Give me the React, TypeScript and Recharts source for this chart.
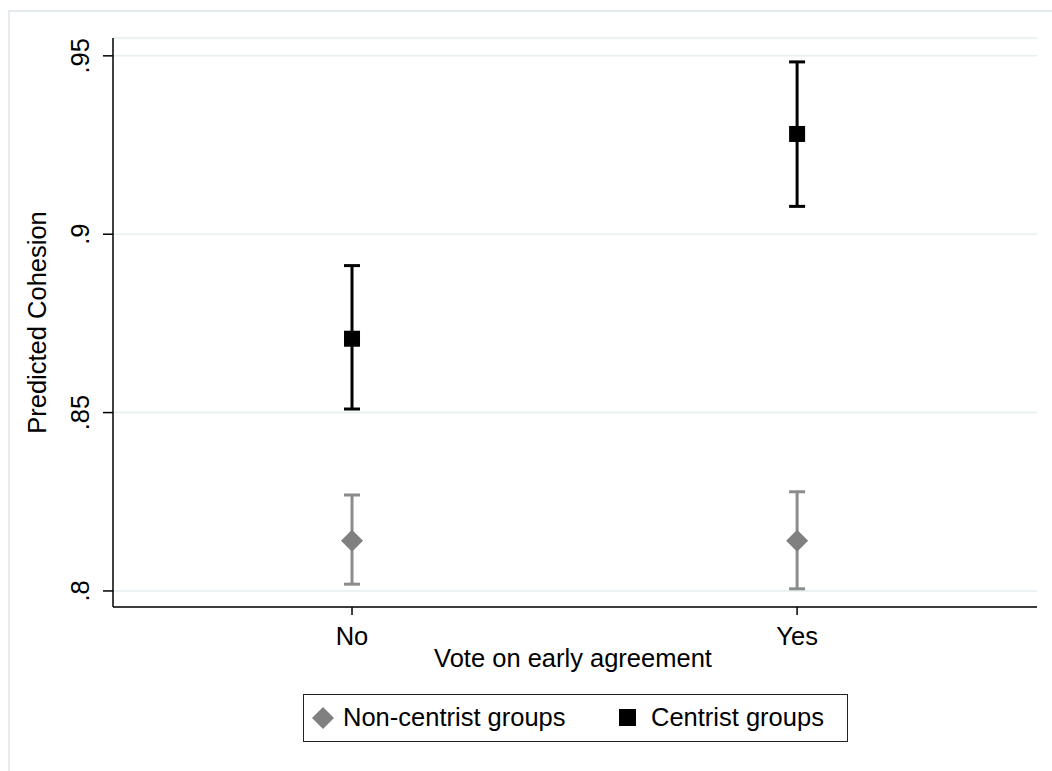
import React from "react";
import {
  ComposedChart,
  Scatter,
  ErrorBar,
  XAxis,
  YAxis,
  CartesianGrid,
  Label,
} from "recharts";

// values
const categories = ["No", "Yes"];
const categoryPos = [0, 1];
const centristMean = [0.8707, 0.9281];
const centristLow = [0.851, 0.9078];
const centristHigh = [0.8912, 0.9483];
const nonCentristMean = [0.8141, 0.8141];
const nonCentristLow = [0.8019, 0.8006];
const nonCentristHigh = [0.8269, 0.8278];
const yTicks = [0.8, 0.85, 0.9, 0.95];

const FONT = '"Liberation Sans", Arial, sans-serif';
const FS = 25.5;
const GREY = "#808080";
const GREY_BAR = "#8c8c8c";

const build = (mean: number[], low: number[], high: number[]) =>
  categoryPos.map((x, i) => ({
    x,
    y: mean[i],
    err: [mean[i] - low[i], high[i] - mean[i]],
  }));

const centristData = build(centristMean, centristLow, centristHigh);
const nonCentristData = build(nonCentristMean, nonCentristLow, nonCentristHigh);

const fmtY = (v: number) => String(v).replace(/^0/, "");

const SquareDot = (props: any) => {
  const { cx, cy } = props;
  if (cx == null || cy == null) return null;
  return <rect x={cx - 8} y={cy - 8} width={16} height={16} fill="#000" />;
};

const DiamondDot = (props: any) => {
  const { cx, cy } = props;
  if (cx == null || cy == null) return null;
  const r = 11;
  return (
    <polygon
      points={`${cx},${cy - r} ${cx + r},${cy} ${cx},${cy + r} ${cx - r},${cy}`}
      fill={GREY}
    />
  );
};

const YTick = (props: any) => {
  const { x, y, payload } = props;
  return (
    <g transform={`translate(${x - 12},${y}) rotate(-90)`}>
      <text x={0} y={0} textAnchor="middle" fontFamily={FONT} fontSize={FS} fill="#000">
        {fmtY(payload.value)}
      </text>
    </g>
  );
};

const XTick = (props: any) => {
  const { x, y, payload } = props;
  return (
    <text x={x} y={y} dy={28} textAnchor="middle" fontFamily={FONT} fontSize={FS} fill="#000">
      {categories[payload.value]}
    </text>
  );
};

const YTitle = (props: any) => {
  const vb = props.viewBox || { x: 0, y: 38, width: 113, height: 569 };
  const cy = vb.y + vb.height / 2;
  return (
    <g transform={`translate(46,${cy}) rotate(-90)`}>
      <text x={0} y={0} textAnchor="middle" fontFamily={FONT} fontSize={FS} fill="#000">
        Predicted Cohesion
      </text>
    </g>
  );
};

const XTitle = (props: any) => {
  const vb = props.viewBox || { x: 113, y: 607, width: 924, height: 60 };
  return (
    <text
      x={vb.x + vb.width / 2 - 2}
      y={vb.y + 60}
      textAnchor="middle"
      fontFamily={FONT}
      fontSize={FS}
      fill="#000"
    >
      Vote on early agreement
    </text>
  );
};

const legendText: React.CSSProperties = {
  position: "absolute",
  top: "50%",
  transform: "translateY(-50%)",
  whiteSpace: "nowrap",
  lineHeight: 1,
};

const LegendBox = () => (
  <div
    style={{
      position: "absolute",
      left: 303,
      top: 694,
      width: 543,
      height: 46,
      border: "1.5px solid #222",
      fontFamily: FONT,
      fontSize: FS,
      color: "#000",
      boxSizing: "content-box",
    }}
  >
    <svg
      width={24}
      height={24}
      style={{ position: "absolute", left: 7, top: "50%", marginTop: -12 }}
    >
      <polygon points="12,1 23,12 12,23 1,12" fill={GREY} />
    </svg>
    <span style={{ ...legendText, left: 39 }}>Non-centrist groups</span>
    <svg
      width={17}
      height={17}
      style={{ position: "absolute", left: 315, top: "50%", marginTop: -9 }}
    >
      <rect x={0} y={0} width={17} height={17} fill="#000" />
    </svg>
    <span style={{ ...legendText, left: 347 }}>Centrist groups</span>
  </div>
);

export default function App() {
  return (
    <div
      style={{
        position: "absolute",
        left: 0,
        top: 0,
        width: 1052,
        height: 771,
        background: "#fff",
      }}
    >
      <div
        style={{
          position: "absolute",
          left: 8,
          top: 10,
          right: 0,
          bottom: 0,
          borderTop: "2px solid #e4ecef",
          borderLeft: "2px solid #e4ecef",
        }}
      />
      <div style={{ position: "absolute", left: 0, top: 0 }}>
        <ComposedChart
          width={1052}
          height={771}
          margin={{ top: 38, right: 15, bottom: 104, left: 0 }}
        >
          <CartesianGrid
            horizontal
            vertical={false}
            stroke="#e6eef0"
            strokeWidth={1.5}
          />
          <XAxis
            type="number"
            dataKey="x"
            domain={[-0.537, 1.539]}
            ticks={categoryPos}
            allowDataOverflow
            height={60}
            tickSize={8}
            tickMargin={2}
            stroke="#000"
            strokeWidth={1.5}
            tick={<XTick />}
          >
            <Label content={<XTitle />} />
          </XAxis>
          <YAxis
            type="number"
            dataKey="y"
            domain={[0.7955, 0.955]}
            ticks={yTicks}
            allowDataOverflow
            width={113}
            tickSize={10}
            tickMargin={2}
            stroke="#000"
            strokeWidth={1.5}
            tick={<YTick />}
          >
            <Label content={<YTitle />} />
          </YAxis>
          <Scatter
            name="Non-centrist groups"
            data={nonCentristData}
            shape={<DiamondDot />}
            isAnimationActive={false}
          >
            <ErrorBar
              dataKey="err"
              direction="y"
              width={8}
              stroke={GREY_BAR}
              strokeWidth={3}
              isAnimationActive={false}
            />
          </Scatter>
          <Scatter
            name="Centrist groups"
            data={centristData}
            shape={<SquareDot />}
            isAnimationActive={false}
          >
            <ErrorBar
              dataKey="err"
              direction="y"
              width={8}
              stroke="#000"
              strokeWidth={3}
              isAnimationActive={false}
            />
          </Scatter>
        </ComposedChart>
      </div>
      <LegendBox />
    </div>
  );
}
